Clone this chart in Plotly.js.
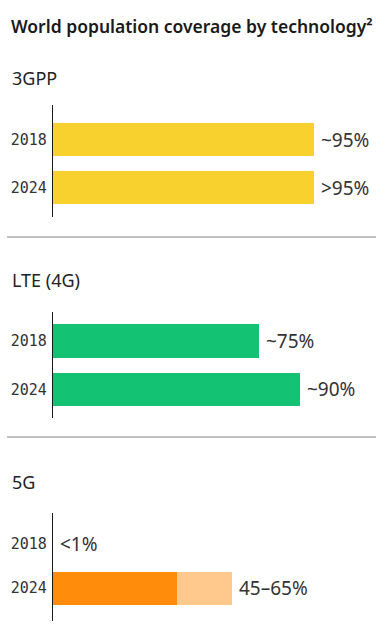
<!DOCTYPE html>
<html>
<head>
<meta charset="utf-8">
<script src="https://cdn.plot.ly/plotly-3.0.1.min.js"></script>
<style>html,body{margin:0;padding:0;background:#fff;}#chart{width:386px;height:639px;}</style>
</head>
<body>
<div id="chart"></div>
<script>
// ---- data ----
const years = ['2018', '2024'];
const panelTitles = ['3GPP', 'LTE (4G)', '5G'];
const gppValues = [95, 95];
const gppLabels = ['~95%', '>95%'];
const lteValues = [75, 90];
const lteLabels = ['~75%', '~90%'];
const fiveGLow = [0, 45];
const fiveGHigh = [0, 65];
const fiveGLabels = ['<1%', '45\u201365%'];
const chartTitle = 'World population coverage by technology\u00b2';

// ---- helpers ----
const H = 639, W = 386;
const py = p => 1 - p / H;
const COLORS = {gpp: '#F9D12E', lte: '#13C373', o1: '#FF8C0A', o2: '#FFC88C'};
const rangeBand = (a, b) => b.map((v, i) => v - a[i]);

const traces = [
  {type: 'bar', orientation: 'h', y: years, x: gppValues, xaxis: 'x', yaxis: 'y',
   marker: {color: COLORS.gpp}, width: 0.69, hoverinfo: 'none'},
  {type: 'bar', orientation: 'h', y: years, x: lteValues, xaxis: 'x', yaxis: 'y2',
   marker: {color: COLORS.lte}, width: 0.69, hoverinfo: 'none'},
  {type: 'bar', orientation: 'h', y: years, x: fiveGLow, xaxis: 'x', yaxis: 'y3',
   marker: {color: COLORS.o1}, width: 0.75, hoverinfo: 'none'},
  {type: 'bar', orientation: 'h', y: years, x: rangeBand(fiveGLow, fiveGHigh), xaxis: 'x', yaxis: 'y3',
   marker: {color: COLORS.o2}, width: 0.75, hoverinfo: 'none'}
];

const yBase = {
  type: 'category', categoryorder: 'array', categoryarray: years,
  showline: true, linecolor: '#1a1a1a', linewidth: 1.2, showgrid: false, zeroline: false,
  ticks: '', ticklabelstandoff: 2, anchor: 'x', fixedrange: true,
  tickfont: {family: 'DejaVu Sans Mono', size: 15, color: '#333'}
};

const valFont = {family: 'Noto Sans', size: 19, color: '#333'};
const annotations = [];
function addLabels(values, labels, yref) {
  values.forEach((v, i) => {
    annotations.push({x: v, y: i, xref: 'x', yref: yref, text: labels[i],
      showarrow: false, xanchor: 'left', yanchor: 'middle', xshift: 5, font: valFont});
  });
}
addLabels(gppValues, gppLabels, 'y');
addLabels(lteValues, lteLabels, 'y2');
addLabels(fiveGHigh, fiveGLabels, 'y3');

const titleYs = [78, 280, 481.5];
panelTitles.forEach((t, i) => {
  annotations.push({x: 10 / W, y: py(titleYs[i]), xref: 'paper', yref: 'paper', text: t,
    showarrow: false, xanchor: 'left', yanchor: 'middle',
    font: {family: 'Noto Sans', size: 18, color: '#222'}});
});

const sepLine = yy => ({type: 'line', xref: 'paper', yref: 'paper', x0: 7 / W, x1: 376 / W,
  y0: py(yy), y1: py(yy), line: {color: '#ababab', width: 1.5}});

const layout = {
  width: W, height: H,
  margin: {l: 0, r: 0, t: 0, b: 0},
  paper_bgcolor: '#fff', plot_bgcolor: '#fff',
  barmode: 'stack', showlegend: false,
  title: {text: chartTitle, x: 11 / W, xanchor: 'left', xref: 'paper', y: py(27), yanchor: 'middle',
    font: {family: 'Noto Sans', size: 17.5, weight: 600, color: '#1a1a1a'}},
  xaxis: {domain: [53 / W, 1], range: [0, 121.2], showline: false, showticklabels: false,
    showgrid: false, zeroline: false, ticks: '', fixedrange: true},
  yaxis: Object.assign({}, yBase, {domain: [py(217), py(105)], range: [1.606, -0.715]}),
  yaxis2: Object.assign({}, yBase, {domain: [py(418), py(312)], range: [1.588, -0.598]}),
  yaxis3: Object.assign({}, yBase, {domain: [py(621), py(513)], range: [1.742, -0.697]}),
  annotations: annotations,
  shapes: [sepLine(237), sepLine(437)]
};

Plotly.newPlot('chart', traces, layout, {displayModeBar: false, staticPlot: true});
</script>
</body>
</html>
